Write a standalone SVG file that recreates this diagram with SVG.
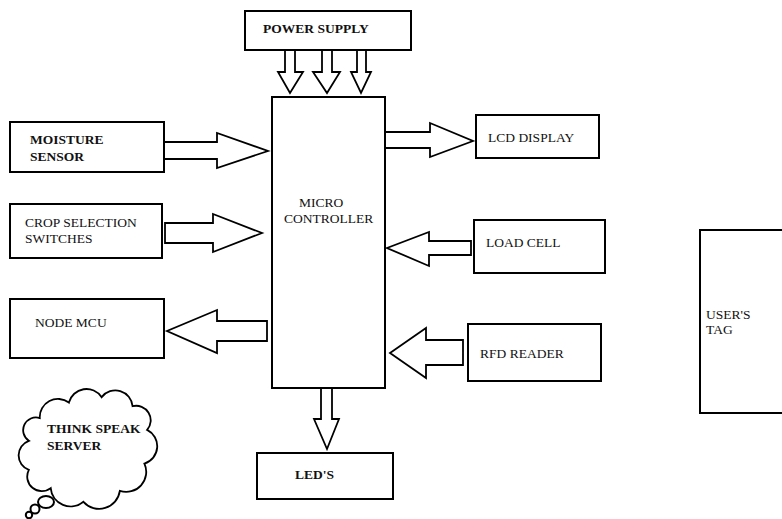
<svg xmlns="http://www.w3.org/2000/svg" width="782" height="519" viewBox="0 0 782 519">
<style>
.box{fill:#fff;stroke:#000;stroke-width:2}
.arr{fill:#fff;stroke:#000;stroke-width:1.8;stroke-linejoin:miter}
.t{font-family:"Liberation Serif","DejaVu Serif","Times New Roman",serif;font-size:13.5px;fill:#111}
.b{font-weight:bold}
</style>
<rect width="782" height="519" fill="#fff"/>
<g id="connectors">
<polygon class="arr" points="285,50 295,50 295,72 303,72 290,93 278,72 285,72"/>
<polygon class="arr" points="322,50 332,50 332,72 340,72 327,93 313,72 322,72"/>
<polygon class="arr" points="357,50 366,50 366,72 371,72 361,93 351,72 357,72"/>
<polygon class="arr" points="164,142 217,142 217,133 268,151 217,168 217,159 164,159"/>
<polygon class="arr" points="165,223 213,223 213,214 262,233 213,252 213,243 165,243"/>
<polygon class="arr" points="267,321 217,321 217,310 167,331 217,353 217,341 267,341"/>
<polygon class="arr" points="385,132 430,132 430,123 473,141 430,157 430,148 385,148"/>
<polygon class="arr" points="471,241 429,241 429,232 387,248 429,266 429,255 471,255"/>
<polygon class="arr" points="463,340 426,340 426,328 390,353 426,378 426,365 463,365"/>
<polygon class="arr" points="321,387 332,387 332,419 339,419 327,449 314,419 321,419"/>
</g>
<g id="power">
<rect class="box" x="245" y="11" width="166" height="39"/>
<text class="t b" x="263" y="33">POWER SUPPLY</text>
</g>
<g id="micro">
<rect class="box" x="272" y="97" width="113" height="291"/>
<text class="t" x="299" y="207">MICRO</text>
<text class="t" x="284" y="223">CONTROLLER</text>
</g>
<g id="moisture">
<rect class="box" x="10" y="122" width="154" height="50"/>
<text class="t b" x="30" y="144">MOISTURE</text>
<text class="t b" x="30" y="161">SENSOR</text>
</g>
<g id="crop">
<rect class="box" x="10" y="204" width="152" height="54"/>
<text class="t" x="25" y="227">CROP SELECTION</text>
<text class="t" x="25" y="243">SWITCHES</text>
</g>
<g id="nodemcu">
<rect class="box" x="10" y="299" width="154" height="59"/>
<text class="t" x="35" y="327">NODE MCU</text>
</g>
<g id="lcd">
<rect class="box" x="476" y="115" width="123" height="43"/>
<text class="t" x="488" y="142">LCD DISPLAY</text>
</g>
<g id="loadcell">
<rect class="box" x="474" y="220" width="131" height="53"/>
<text class="t" x="486" y="247">LOAD CELL</text>
</g>
<g id="rfd">
<rect class="box" x="468" y="324" width="133" height="57"/>
<text class="t" x="480" y="358">RFD READER</text>
</g>
<g id="leds">
<rect class="box" x="257" y="453" width="136" height="46"/>
<text class="t b" x="295" y="479">LED'S</text>
</g>
<g id="usertag">
<rect class="box" x="700" y="230" width="95" height="183"/>
<text class="t" x="706" y="319">USER'S</text>
<text class="t" x="706" y="334">TAG</text>
</g>
<g id="cloud">
<path class="box" transform="translate(88,449) scale(0.91) translate(-88,-449)" d="M23,440 A14,14 0 0 1 35,415 A20,20 0 0 1 67,398 A20,20 0 0 1 103,392 A19,19 0 0 1 137,402 A16,16 0 0 1 153,428 A20,20 0 0 1 150,465 A22,22 0 0 1 123,495 A23,23 0 0 1 83,507 A22,22 0 0 1 47,492 A16,16 0 0 1 23,472 A17,17 0 0 1 23,440 Z"/>
<ellipse class="box" cx="46" cy="502" rx="8" ry="6"/>
<circle class="box" cx="35" cy="509" r="4.5"/>
<circle class="box" cx="29" cy="515" r="3.2"/>
<text class="t b" x="47" y="433">THINK SPEAK</text>
<text class="t b" x="47" y="450">SERVER</text>
</g>
</svg>
